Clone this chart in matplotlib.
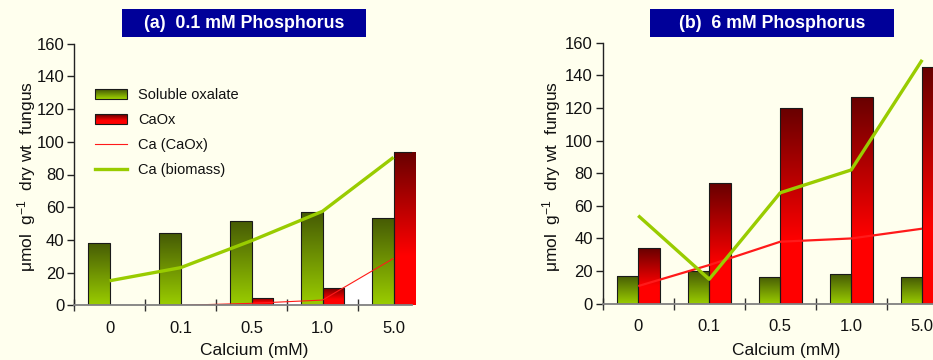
import numpy as np
import matplotlib
matplotlib.use("Agg")
import matplotlib.pyplot as plt
from matplotlib.patches import Rectangle
from matplotlib.lines import Line2D
from matplotlib.legend_handler import HandlerBase
from matplotlib.colors import to_rgb

plt.rcParams['font.family'] = ['Liberation Sans', 'DejaVu Sans']
plt.rcParams['mathtext.default'] = 'regular'

# ---------------- data ----------------
categories = ['0', '0.1', '0.5', '1.0', '5.0']

a_soluble = [38, 44, 51.7, 57, 53.5]
a_caox = [0, 0.4, 4.3, 10.8, 94]
a_ca_caox = [np.nan, 0, 1.2, 3.2, 28.7]
a_ca_biomass = [15, 23, 39.5, 57.5, 90.5]

b_soluble = [17.2, 20.2, 16.6, 18.2, 16.4]
b_caox = [34, 73.8, 120.2, 127, 145]
b_ca_caox = [10.8, 23.7, 38, 40, 46]
b_ca_biomass = [54, 15, 68, 82, 149.5]

titles = ['(a)  0.1 mM Phosphorus', '(b)  6 mM Phosphorus']
legend_labels = ['Soluble oxalate', 'CaOx', 'Ca (CaOx)', 'Ca (biomass)']

# ---------------- style ----------------
BG = '#FFFFEE'
G_TOP, G_BOT = '#455a05', '#9acd00'
R_TOP, R_BOT = '#680000', '#ff0000'
GREEN_LINE = '#99cc00'
RED_LINE = '#ff1a1a'
W = 933; H = 360


def grad_img(top, bot, n=128, knee=1.0):
    t = np.linspace(0, 1, n)
    f = np.clip(t / knee, 0, 1)
    c0 = np.array(to_rgb(top)); c1 = np.array(to_rgb(bot))
    img = c0[None, :] * (1 - f[:, None]) + c1[None, :] * f[:, None]
    return img[:, None, :]


GIMG = grad_img(G_TOP, G_BOT, knee=1.0)
RIMG = grad_img(R_TOP, R_BOT, knee=0.68)


def grad_bars(ax, x, vals, img):
    bars = ax.bar(x, vals, width=0.3, align='edge', facecolor='none',
                  edgecolor='#1a1a1a', linewidth=0.8, zorder=3)
    for p, v in zip(bars.patches, vals):
        if v <= 0:
            continue
        x0 = p.get_x(); w = p.get_width()
        im = ax.imshow(img, extent=[x0, x0 + w, 0, v], aspect='auto',
                       origin='upper', zorder=2.5, interpolation='bilinear')
        im.set_clip_path(p)
    return bars


class GradHandler(HandlerBase):
    def __init__(self, top, bot, knee=1.0):
        super().__init__()
        self.top, self.bot, self.knee = top, bot, knee

    def create_artists(self, legend, orig_handle, xdescent, ydescent,
                       width, height, fontsize, trans):
        n = 10
        img = grad_img(self.top, self.bot, n=n, knee=self.knee)[:, 0, :]
        arts = []
        for i in range(n):
            c = img[n - 1 - i]
            r = Rectangle((-xdescent, -ydescent + height * i / n), width,
                          height / n, facecolor=c, edgecolor='none',
                          transform=trans)
            arts.append(r)
        arts.append(Rectangle((-xdescent, -ydescent), width, height,
                              facecolor='none', edgecolor='#1a1a1a',
                              linewidth=0.8, transform=trans))
        return arts


fig = plt.figure(figsize=(W / 100, H / 100), dpi=100, facecolor=BG)

panels = [
    dict(left=74, y0=305.3, ppu=1.635, xmax=4.26, sol=a_soluble, caox=a_caox,
         cc=a_ca_caox, cb=a_ca_biomass, rlw=0.8, white=True,
         box=(122, 366), ylab_x=27, xlab_x=254),
    dict(left=602.7, y0=303.7, ppu=1.631, xmax=4.15, sol=b_soluble, caox=b_caox,
         cc=b_ca_caox, cb=b_ca_biomass, rlw=1.6, white=False,
         box=(650, 894), ylab_x=552, xlab_x=786),
]

cat_px = 71.0
x = np.arange(len(categories))
axes = []
for k, P in enumerate(panels):
    width_px = (P['xmax'] + 0.5) * cat_px
    height_px = 160 * P['ppu']
    ax = fig.add_axes([P['left'] / W, (H - P['y0']) / H, width_px / W, height_px / H])
    ax.set_facecolor('none')
    ax.patch.set_alpha(0)
    axes.append(ax)

    if P['white']:
        xs = x[1:]; ys = np.array(P['cc'][1:])
        ax.fill_between(xs, 0, ys, color='white', zorder=1, linewidth=0)

    grad_bars(ax, x - 0.3, P['sol'], GIMG)
    grad_bars(ax, x, P['caox'], RIMG)

    ax.plot(x, P['cc'], color=RED_LINE, lw=P['rlw'], zorder=4, solid_capstyle='butt')
    ax.plot(x, P['cb'], color=GREEN_LINE, lw=2.4, zorder=5, solid_capstyle='butt')

    ax.set_xlim(-0.5, P['xmax'])
    ax.set_ylim(0, 160)
    for s in ['top', 'right']:
        ax.spines[s].set_visible(False)
    ax.spines['left'].set_color('#222222')
    ax.spines['left'].set_linewidth(1.0)
    ax.spines['bottom'].set_color('#808080')
    ax.spines['bottom'].set_linewidth(1.3)
    ax.spines['bottom'].set_zorder(6)

    ax.set_yticks(np.arange(0, 161, 20))
    ax.tick_params(axis='y', direction='out', length=5, width=1, color='#222222',
                   labelsize=12, pad=2, labelcolor='#111111')
    ax.set_xticks(np.arange(-0.5, len(categories) - 0.5, 1.0))
    ax.set_xticklabels([])
    ax.tick_params(axis='x', which='major', direction='inout', length=9,
                   width=1, color='#333333')
    ax.set_xticks(x, minor=True)
    ax.set_xticklabels(categories, minor=True)
    ax.tick_params(axis='x', which='minor', length=0, labelsize=12, pad=11,
                   labelcolor='#111111')

    # title box
    bx0, bx1 = P['box']
    fig.patches.append(Rectangle((bx0 / W, (H - 37) / H), (bx1 - bx0) / W, 28 / H,
                                 transform=fig.transFigure, facecolor='#000099',
                                 edgecolor='none', zorder=0))
    fig.text((bx0 + bx1) / 2 / W, (H - 23.5) / H, titles[k], color='white',
             fontsize=12.8, fontweight='bold', ha='center', va='center')

    # axis labels
    fig.text(P['ylab_x'] / W, (H - 176) / H,
             '\u03bcmol  g$^{-1}$  dry wt  fungus', rotation=90,
             ha='center', va='center', fontsize=12.5, color='#111111')
    fig.text(P['xlab_x'] / W, (H - 350) / H, 'Calcium (mM)', ha='center',
             va='center', fontsize=12.5, color='#111111')

# legend in panel (a)
h_sol = Rectangle((0, 0), 1, 1)
h_cao = Rectangle((0, 0), 1, 1)
h_rl = Line2D([], [], color=RED_LINE, lw=0.8)
h_gl = Line2D([], [], color=GREEN_LINE, lw=2.4)
leg = axes[0].legend([h_sol, h_cao, h_rl, h_gl], legend_labels,
                     handler_map={h_sol: GradHandler(G_TOP, G_BOT),
                                  h_cao: GradHandler(R_TOP, R_BOT, 0.68)},
                     loc='upper left', bbox_to_anchor=(95 / W, (H - 88) / H),
                     bbox_transform=fig.transFigure, frameon=False,
                     fontsize=10.5, handlelength=2.2, handleheight=0.65,
                     handletextpad=0.75, labelspacing=0.75, borderpad=0,
                     borderaxespad=0)
for t in leg.get_texts():
    t.set_color('#111111')

fig.savefig('out.png', dpi=100, facecolor=BG)
